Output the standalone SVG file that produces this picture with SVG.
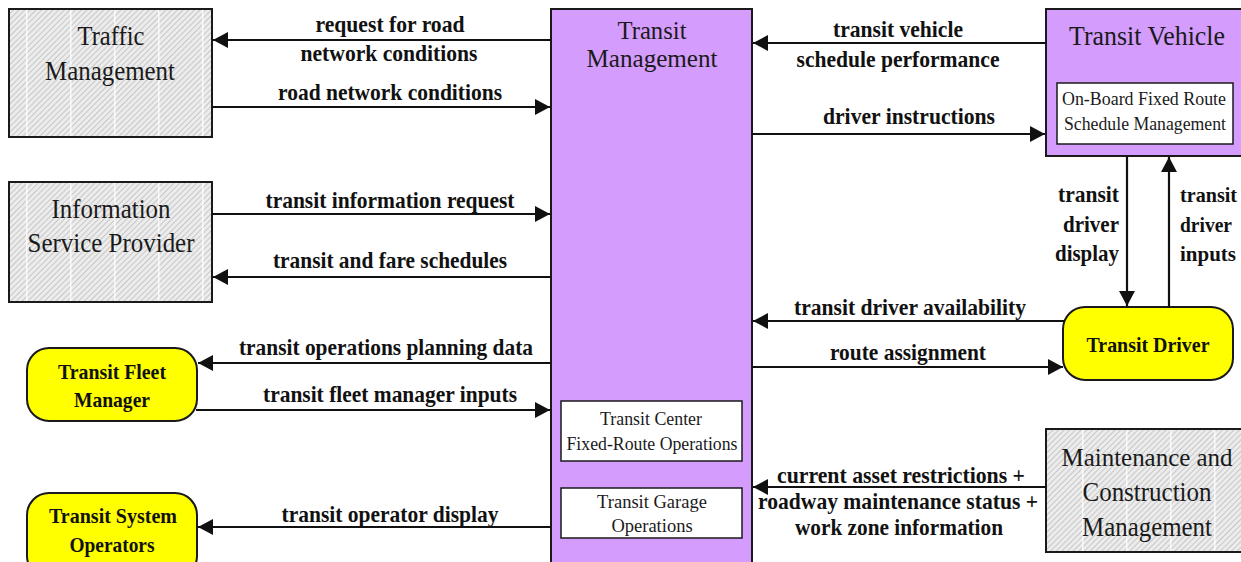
<svg xmlns="http://www.w3.org/2000/svg" width="1241" height="562" viewBox="0 0 1241 562">
<style>
.box{stroke:#1a1a1a;stroke-width:2}
.ext{fill:url(#hatch)}
.stripe{fill:url(#vstripe);stroke:none}
.sys{fill:#d49cfc}
.term{fill:#ffff00}
.sub{fill:#ffffff;stroke:#1a1a1a;stroke-width:1.5}
.nt{font-family:"Liberation Serif","Times New Roman",serif;font-size:27px;fill:#1a1a1a;text-anchor:middle}
.nt2{font-family:"Liberation Serif","Times New Roman",serif;font-size:25px;fill:#1a1a1a;text-anchor:middle}
.st{font-family:"Liberation Serif","Times New Roman",serif;font-size:18.5px;fill:#1a1a1a;text-anchor:middle}
.bt{font-family:"Liberation Serif","Times New Roman",serif;font-size:22px;font-weight:bold;fill:#111;text-anchor:middle}
.lb{font-family:"Liberation Serif","Times New Roman",serif;font-size:24px;font-weight:bold;fill:#111;text-anchor:middle}
.lbr{font-family:"Liberation Serif","Times New Roman",serif;font-size:21px;font-weight:bold;fill:#111;text-anchor:start}
.conn{stroke:#111;stroke-width:2.2;fill:none;marker-end:url(#arr)}
</style>
<defs>
<pattern id="hatch" width="4" height="4" patternUnits="userSpaceOnUse" patternTransform="rotate(45)">
<rect width="4" height="4" fill="#ececec"/>
<line x1="0" y1="0" x2="0" y2="4" stroke="#b4b4b4" stroke-width="1.3"/>
</pattern>
<pattern id="vstripe" width="44" height="10" patternUnits="userSpaceOnUse" x="26">
<rect x="0" y="0" width="1.5" height="10" fill="#ffffff" opacity="0.8"/>
</pattern>
<marker id="arr" markerUnits="userSpaceOnUse" markerWidth="16" markerHeight="16" refX="15" refY="8" orient="auto">
<path d="M0,0 L15,8 L0,16 Z" fill="#111"/>
</marker>
</defs>
<rect width="1241" height="562" fill="#ffffff"/>

<g id="traffic-management">
<rect class="box ext" x="9" y="9" width="203" height="128"/>
<rect class="stripe" x="10" y="10" width="201" height="126"/>
<rect class="box" x="9" y="9" width="203" height="128" fill="none"/>
<text class="nt" x="111" y="45" textLength="67" lengthAdjust="spacingAndGlyphs">Traffic</text>
<text class="nt" x="110" y="80" textLength="130" lengthAdjust="spacingAndGlyphs">Management</text>
</g>

<g id="information-service-provider">
<rect class="box ext" x="9" y="182" width="203" height="120"/>
<rect class="stripe" x="10" y="183" width="201" height="118"/>
<rect class="box" x="9" y="182" width="203" height="120" fill="none"/>
<text class="nt" x="111" y="218" textLength="119" lengthAdjust="spacingAndGlyphs">Information</text>
<text class="nt" x="111" y="252" textLength="167" lengthAdjust="spacingAndGlyphs">Service Provider</text>
</g>

<g id="transit-fleet-manager">
<rect class="box term" x="27" y="348" width="170" height="73" rx="22"/>
<text class="bt" x="112" y="379" textLength="108" lengthAdjust="spacingAndGlyphs">Transit Fleet</text>
<text class="bt" x="112" y="407" textLength="76" lengthAdjust="spacingAndGlyphs">Manager</text>
</g>

<g id="transit-system-operators">
<rect class="box term" x="27" y="493" width="170" height="85" rx="22"/>
<text class="bt" x="113" y="523" textLength="128" lengthAdjust="spacingAndGlyphs">Transit System</text>
<text class="bt" x="112" y="552" textLength="85" lengthAdjust="spacingAndGlyphs">Operators</text>
</g>

<g id="transit-management">
<rect class="box sys" x="551" y="9" width="201" height="570"/>
<text class="nt2" x="652" y="39" textLength="69" lengthAdjust="spacingAndGlyphs">Transit</text>
<text class="nt2" x="652" y="67" textLength="131" lengthAdjust="spacingAndGlyphs">Management</text>
<g id="transit-center-fixed-route-operations">
<rect class="sub" x="561" y="401" width="181" height="60"/>
<text class="st" x="651" y="425" textLength="102" lengthAdjust="spacingAndGlyphs">Transit Center</text>
<text class="st" x="652" y="450" textLength="171" lengthAdjust="spacingAndGlyphs">Fixed-Route Operations</text>
</g>
<g id="transit-garage-operations">
<rect class="sub" x="561" y="488" width="181" height="50"/>
<text class="st" x="652" y="508">Transit Garage</text>
<text class="st" x="652" y="532">Operations</text>
</g>
</g>

<g id="transit-vehicle">
<rect class="box sys" x="1046" y="9" width="200" height="147"/>
<text class="nt" x="1147" y="45" textLength="156" lengthAdjust="spacingAndGlyphs">Transit Vehicle</text>
<g id="on-board-fixed-route-schedule-management">
<rect class="sub" x="1057" y="83" width="176" height="61"/>
<text class="st" x="1144" y="105" textLength="164" lengthAdjust="spacingAndGlyphs">On-Board Fixed Route</text>
<text class="st" x="1145" y="130" textLength="162" lengthAdjust="spacingAndGlyphs">Schedule Management</text>
</g>
</g>

<g id="transit-driver">
<rect class="box term" x="1063" y="307" width="170" height="73" rx="22"/>
<text class="bt" x="1148" y="352" textLength="123" lengthAdjust="spacingAndGlyphs">Transit Driver</text>
</g>

<g id="maintenance-and-construction-management">
<rect class="box ext" x="1046" y="429" width="200" height="123"/>
<rect class="stripe" x="1047" y="430" width="198" height="121"/>
<rect class="box" x="1046" y="429" width="200" height="123" fill="none"/>
<text class="nt2" x="1147" y="466" textLength="171" lengthAdjust="spacingAndGlyphs">Maintenance and</text>
<text class="nt" x="1147" y="501" textLength="129" lengthAdjust="spacingAndGlyphs">Construction</text>
<text class="nt" x="1147" y="536" textLength="130" lengthAdjust="spacingAndGlyphs">Management</text>
</g>

<g id="connectors">
<path class="conn" d="M551,40 H213"/>
<path class="conn" d="M212,107 H550"/>
<path class="conn" d="M212,214 H550"/>
<path class="conn" d="M551,277 H213"/>
<path class="conn" d="M551,363 H198"/>
<path class="conn" d="M196,410 H550"/>
<path class="conn" d="M551,527 H198"/>
<path class="conn" d="M1046,43 H753"/>
<path class="conn" d="M752,134 H1045"/>
<path class="conn" d="M1127,156 V306"/>
<path class="conn" d="M1169,307 V157"/>
<path class="conn" d="M1065,321 H753"/>
<path class="conn" d="M752,367 H1063"/>
<path class="conn" d="M1046,487 H753"/>
</g>

<g id="labels">
<text class="lb" x="390" y="32" textLength="149" lengthAdjust="spacingAndGlyphs">request for road</text>
<text class="lb" x="389" y="61" textLength="177" lengthAdjust="spacingAndGlyphs">network conditions</text>
<text class="lb" x="390" y="100" textLength="224" lengthAdjust="spacingAndGlyphs">road network conditions</text>
<text class="lb" x="390" y="208" textLength="249" lengthAdjust="spacingAndGlyphs">transit information request</text>
<text class="lb" x="390" y="268" textLength="234" lengthAdjust="spacingAndGlyphs">transit and fare schedules</text>
<text class="lb" x="386" y="355" textLength="294" lengthAdjust="spacingAndGlyphs">transit operations planning data</text>
<text class="lb" x="390" y="402" textLength="254" lengthAdjust="spacingAndGlyphs">transit fleet manager inputs</text>
<text class="lb" x="390" y="522" textLength="217" lengthAdjust="spacingAndGlyphs">transit operator display</text>
<text class="lb" x="898" y="37" textLength="130" lengthAdjust="spacingAndGlyphs">transit vehicle</text>
<text class="lb" x="898" y="67" textLength="203" lengthAdjust="spacingAndGlyphs">schedule performance</text>
<text class="lb" x="909" y="124" textLength="172" lengthAdjust="spacingAndGlyphs">driver instructions</text>
<text class="lb" x="910" y="315" textLength="232" lengthAdjust="spacingAndGlyphs">transit driver availability</text>
<text class="lb" x="908" y="360" textLength="156" lengthAdjust="spacingAndGlyphs">route assignment</text>
<text class="lb" x="901" y="483" textLength="248" lengthAdjust="spacingAndGlyphs">current asset restrictions +</text>
<text class="lb" x="898" y="509" textLength="280" lengthAdjust="spacingAndGlyphs">roadway maintenance status +</text>
<text class="lb" x="899" y="535" textLength="208" lengthAdjust="spacingAndGlyphs">work zone information</text>
<text class="lb" x="1119" y="202" style="text-anchor:end" textLength="61" lengthAdjust="spacingAndGlyphs">transit</text>
<text class="lb" x="1119" y="232" style="text-anchor:end" textLength="56" lengthAdjust="spacingAndGlyphs">driver</text>
<text class="lb" x="1119" y="261" style="text-anchor:end" textLength="64" lengthAdjust="spacingAndGlyphs">display</text>
<text class="lbr" x="1180" y="202" textLength="57" lengthAdjust="spacingAndGlyphs">transit</text>
<text class="lbr" x="1180" y="232" textLength="52" lengthAdjust="spacingAndGlyphs">driver</text>
<text class="lbr" x="1180" y="261" textLength="56" lengthAdjust="spacingAndGlyphs">inputs</text>
</g>
</svg>
